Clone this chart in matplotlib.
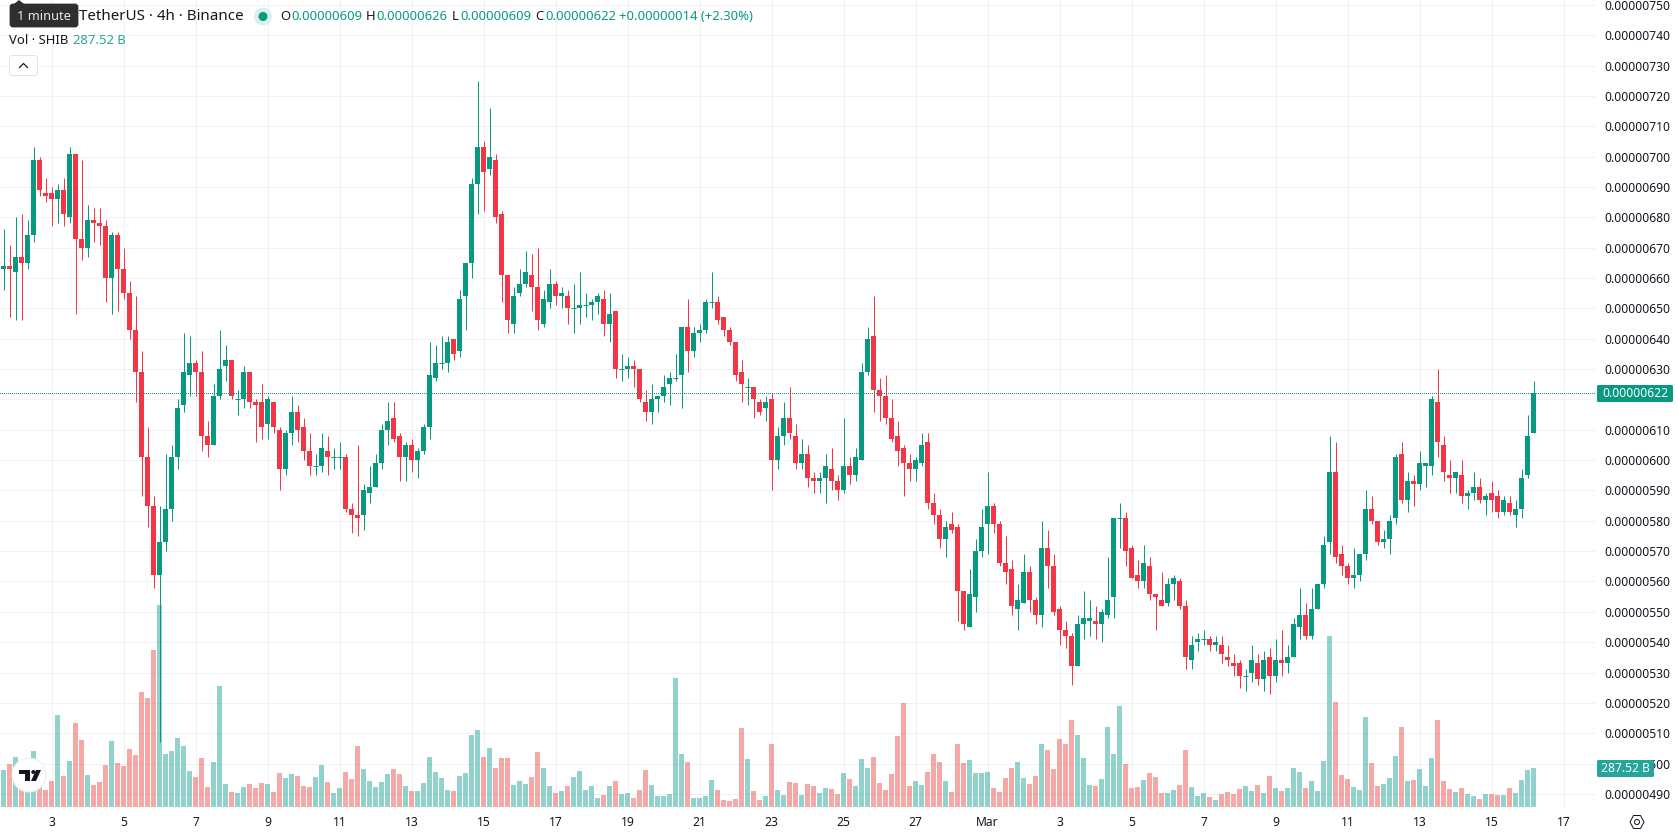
import matplotlib
matplotlib.use("Agg")
import matplotlib.pyplot as plt
from matplotlib.patches import Circle, FancyBboxPatch, Polygon

# 4h candles, prices in units of 0.00000001 USDT
opens = [
    663,664,662,667,665,674,699,688,688,686, 689,680,701,673,670,679,678,677,660,674,
    663,655,643,629,601,585,562,573,584,601, 618,628,632,629,608,605,621,631,633,620,
    620,629,619,619,612,619,610,597,609,616, 611,603,598,598,603,601,601,601,584,582,
    582,589,591,599,610,614,608,601,605,600, 603,611,627,632,632,640,636,654,665,691,
    703,696,699,681,661,645,655,658,661,657, 645,652,658,654,654,650,650,651,651,652,
    653,645,649,630,630,631,630,619,616,620, 621,625,627,628,644,636,642,643,652,652,
    647,643,639,629,624,624,619,617,620,600, 608,614,608,599,602,594,593,594,597,593,
    590,598,595,600,629,641,623,621,614,608, 604,599,597,599,606,586,582,574,579,578,
    557,545,555,570,579,585,579,566,564,551, 553,563,554,549,571,565,551,544,542,532,
    546,547,547,546,549,555,581,581,571,562, 560,565,556,554,553,559,560,552,534,540,
    541,541,539,539,535,533,533,529,530,533, 528,535,529,534,533,535,545,549,542,551,
    559,573,596,569,565,561,562,569,584,580, 573,574,581,602,587,593,592,598,598,619,
    605,595,594,595,588,589,591,587,589,588, 583,586,582,584,595,609,
]
highs = [
    676,671,680,681,679,703,700,693,690,691, 693,703,701,699,684,683,683,679,675,675,
    670,659,654,636,611,588,585,602,605,620, 642,641,633,636,613,625,643,638,633,623,
    631,629,620,625,621,619,611,610,621,618, 614,609,602,609,608,604,606,602,586,605,
    592,598,602,612,619,619,609,606,607,604, 612,639,638,641,641,640,656,665,693,725,
    705,716,701,682,661,657,663,669,668,670, 656,663,659,657,656,658,662,655,653,655,
    656,655,649,635,634,633,630,623,625,621, 628,629,635,644,653,644,645,653,662,654,
    647,644,639,633,627,624,620,621,622,611, 619,624,612,607,605,596,596,602,604,595,
    614,601,604,632,644,654,627,628,620,613, 605,602,601,609,609,589,584,580,583,579,
    557,564,574,584,596,586,580,575,567,559, 569,565,555,580,577,569,552,547,543,549,
    557,554,552,551,568,581,586,583,572,567, 572,568,556,563,561,562,561,554,542,543,
    544,542,542,542,539,536,534,531,539,536, 537,538,541,544,539,548,558,553,558,559,
    575,608,606,572,566,571,569,590,588,580, 577,582,602,606,596,595,603,599,621,630,
    608,600,596,600,590,596,594,589,593,590, 588,588,587,597,615,626,
]
lows = [
    656,647,646,646,663,672,687,685,677,678, 677,678,648,666,667,672,671,652,648,649,
    653,640,619,588,578,558,507,570,580,597, 616,621,621,603,601,605,620,626,620,615,
    617,617,606,607,607,609,590,595,605,606, 600,595,595,596,595,597,597,583,576,575,
    577,586,591,597,605,606,593,593,596,594, 602,607,626,630,629,633,634,643,660,681,
    682,694,678,652,642,642,654,657,649,643, 644,650,651,650,645,642,645,647,646,648,
    641,639,627,626,627,624,619,613,612,616, 619,618,626,617,629,634,639,642,650,645,
    641,638,626,619,618,614,615,613,590,597, 605,607,597,597,591,589,589,586,590,587,
    589,592,593,600,628,616,613,612,606,598, 588,593,593,598,584,579,571,568,576,547,
    544,545,550,568,569,576,565,559,549,544, 553,550,546,545,558,549,539,538,526,532,
    541,542,541,540,548,548,571,565,561,558, 558,554,544,552,552,554,551,531,531,537,
    539,537,537,533,532,529,525,524,527,526, 524,523,527,529,530,535,541,541,541,551,
    558,569,566,562,559,558,560,567,579,572, 571,569,579,586,583,585,590,591,595,601,
    593,589,589,586,584,587,586,582,583,581, 582,582,578,581,594,609,
]
closes = [
    664,663,667,665,674,699,689,687,686,689, 681,701,673,670,679,678,677,660,674,663,
    655,643,629,601,585,562,573,584,601,617, 629,632,629,608,605,621,630,633,621,620,
    629,619,618,611,620,611,597,609,616,610, 603,598,598,604,601,601,601,584,582,581,
    590,591,599,610,613,607,601,605,600,603, 611,628,632,632,639,635,653,665,691,703,
    695,700,680,661,646,654,658,662,657,646, 653,658,654,655,650,650,651,651,652,654,
    645,648,630,630,631,630,620,616,620,621, 624,627,627,644,636,642,643,652,652,646,
    643,639,628,625,624,620,616,619,600,608, 614,609,599,602,594,593,594,598,593,590,
    598,595,601,629,640,623,621,614,607,603, 599,597,600,605,586,582,574,578,577,557,
    546,556,570,578,585,579,566,563,552,554, 563,554,549,571,565,550,544,542,532,546,
    548,548,546,550,554,581,581,570,561,560, 566,556,555,552,559,561,552,535,539,541,
    541,539,540,536,534,532,529,529,534,528, 534,529,534,533,535,546,549,542,551,559,
    572,596,568,565,561,562,569,584,580,573, 574,580,601,587,593,592,599,599,620,606,
    596,594,596,588,589,591,587,588,587,583, 587,583,584,594,608,622,
]
# Volume in billions of SHIB
volumes = [
    273,317,369,147,123,413,172,125,192,678, 229,339,619,494,236,162,184,310,486,324,
    302,428,383,848,803,1157,1489,391,413,509, 450,265,221,361,147,332,892,170,111,103,
    147,170,140,177,170,111,251,214,243,229, 155,147,221,310,184,103,140,258,206,450,
    280,192,147,184,243,280,243,152,115,115, 174,366,256,211,123,115,226,248,528,565,
    366,432,285,359,359,160,189,167,219,403, 285,152,101,115,152,219,263,123,152,64,
    86,152,189,93,101,64,123,270,160,79, 79,93,948,388,329,64,64,79,197,123,
    49,42,57,580,351,115,49,79,462,123, 86,182,174,86,167,152,101,138,130,93,
    248,204,152,351,285,366,174,123,241,521, 764,152,189,160,256,388,329,189,108,462,
    322,344,248,248,256,138,108,211,285,329, 211,167,226,462,420,280,501,464,641,531,
    361,162,155,206,590,391,744,317,140,147, 199,251,221,103,103,125,162,420,147,81,
    103,74,52,96,111,96,133,155,118,162, 103,229,140,118,140,287,258,140,192,118,
    339,1260,774,236,206,147,125,663,324,155, 170,214,376,590,192,199,280,155,361,641,
    192,133,111,140,96,81,59,96,96,88, 88,140,103,199,273,287.52,
]

# The scale omits the one label that would sit under the last-price tag
price_ticks = list(range(490, 760, 10))
hidden_price_labels = [620]
date_tick_candles = [8 + 12 * k for k in range(22)]
date_tick_labels = ["3","5","7","9","11","13","15","17","19","21","23","25","27","Mar",
                    "3","5","7","9","11","13","15","17"]

GREEN = "#089981"
RED = "#F23645"
INK = "#131722"
GRID = "#F0F1F3"
TEAL = "#26A69A"
FONT = "Noto Sans"
W, H = 1678, 835
PANE_W, PANE_H = 1595, 807
PX = 72 / 100  # points per pixel at dpi 100

plt.rcParams["font.family"] = FONT
fig = plt.figure(figsize=(W / 100, H / 100), dpi=100, facecolor="white")
rect = [0, (H - PANE_H) / H, PANE_W / W, PANE_H / H]

x = list(range(len(closes)))
xlim = (-3.5 / 6, (PANE_W - 3.5) / 6)
ylim = (485.68, 751.6)
is_up = [c >= o for o, c in zip(opens, closes)]
colors = [GREEN if u else RED for u in is_up]

# Bottom layer: grid and both axes' tick labels
ax_grid = fig.add_axes(rect, zorder=0)
ax_grid.set_xlim(xlim)
ax_grid.set_ylim(ylim)
ax_grid.yaxis.tick_right()
ax_grid.set_yticks(price_ticks)
ax_grid.set_yticklabels(["" if p in hidden_price_labels else f"{p * 1e-8:.8f}" for p in price_ticks],
                        fontsize=8.7, color=INK)
ax_grid.set_xticks(date_tick_candles)
ax_grid.set_xticklabels(date_tick_labels, fontsize=8.7, color=INK)
for lab in ax_grid.get_xticklabels():
    if lab.get_text() == "Mar":
        lab.set_fontweight("bold")
ax_grid.tick_params(axis="both", length=0)
ax_grid.tick_params(axis="y", pad=6.4)
ax_grid.tick_params(axis="x", pad=6.8)
ax_grid.grid(True, color=GRID, linewidth=1 * PX)
for s in ax_grid.spines.values():
    s.set_visible(False)

# Volume histogram, scaled so the latest bar stands 39 px tall
ax_vol = fig.add_axes(rect, zorder=1)
ax_vol.patch.set_alpha(0)
ax_vol.set_xlim(xlim)
ax_vol.set_ylim(0, PANE_H * volumes[-1] / 39)
ax_vol.axis("off")
ax_vol.bar(x, volumes, width=5 / 6, linewidth=0, alpha=0.5,
           color=[TEAL if u else "#EF5350" for u in is_up])

# Candles: wicks first, then bodies, with one-pixel bars for flat candles
ax_c = fig.add_axes(rect, zorder=2)
ax_c.patch.set_alpha(0)
ax_c.set_xlim(xlim)
ax_c.set_ylim(ylim)
ax_c.axis("off")
ax_c.vlines(x, lows, highs, colors=colors, linewidth=1 * PX)
ax_c.bar(x, [abs(c - o) for o, c in zip(opens, closes)],
         bottom=[min(o, c) for o, c in zip(opens, closes)],
         width=5 / 6, color=colors, linewidth=0)
flat = [i for i in x if opens[i] == closes[i]]
ax_c.hlines([closes[i] for i in flat], [i - 2.5 / 6 for i in flat], [i + 2.5 / 6 for i in flat],
            colors=[colors[i] for i in flat], linewidth=1 * PX)
ax_c.axhline(closes[-1], color=GREEN, linewidth=1 * PX, linestyle=(0, (1, 2)), antialiased=False)

# Overlay in pixel coordinates for the header, labels and widgets
ui = fig.add_axes([0, 0, 1, 1], zorder=3)
ui.patch.set_alpha(0)
ui.set_xlim(0, W)
ui.set_ylim(H, 0)
ui.axis("off")

ui.text(79, 17, "TetherUS · 4h · Binance", fontsize=10.9, color=INK, va="center", ha="left")
ui.add_patch(Polygon([(14, 4), (19, 0), (24, 4)], closed=True, facecolor="#2A2E39", linewidth=0))
ui.add_patch(FancyBboxPatch((11, 5), 66, 21, boxstyle="round,pad=0,rounding_size=2",
                            facecolor="#2E2E2E", edgecolor="#2E2E2E", linewidth=2))
ui.text(43.5, 16, "1 minute", fontsize=9.2, color="#E8E8E8", va="center", ha="center")

ui.add_patch(Circle((263, 16.5), 9, facecolor="#D9F0EC", linewidth=0))
ui.add_patch(Circle((263, 16.5), 4.5, facecolor=GREEN, linewidth=0))

ohlc_items = [(280, "O", 291, opens[-1]), (366, "H", 376, highs[-1]),
              (452, "L", 460, lows[-1]), (535, "C", 545, closes[-1])]
for lx, letter, vx, val in ohlc_items:
    ui.text(lx, 17, letter, fontsize=9.4, color=INK, va="center", ha="left")
    ui.text(vx, 17, f"{val * 1e-8:.8f}", fontsize=9.4, color=GREEN, va="center", ha="left")
ui.text(619, 17, "+0.00000014 (+2.30%)", fontsize=9.4, color=GREEN, va="center", ha="left")

ui.text(9, 41, "Vol · SHIB", fontsize=9.4, color=INK, va="center", ha="left")
ui.text(73, 41, "287.52 B", fontsize=9.4, color=TEAL, va="center", ha="left")

ui.add_patch(FancyBboxPatch((9.5, 55.5), 28, 20, boxstyle="round,pad=0,rounding_size=3",
                            facecolor="white", edgecolor="#E0E3EB", linewidth=1 * PX))
ui.plot([19.5, 23.5, 27.5], [67.5, 63.5, 67.5], color=INK, linewidth=1.2 * PX)

# Value tags on the price scale
ui.add_patch(FancyBboxPatch((1597, 385), 76, 17, boxstyle="round,pad=0,rounding_size=1.5",
                            facecolor=GREEN, linewidth=0))
ui.text(1635, 393.8, f"{closes[-1] * 1e-8:.8f}", fontsize=8.7, color="white", va="center", ha="center")
ui.add_patch(FancyBboxPatch((1597, 760), 57, 17, boxstyle="round,pad=0,rounding_size=1.5",
                            facecolor=TEAL, linewidth=0))
ui.text(1625.5, 768.8, "287.52 B", fontsize=8.7, color="white", va="center", ha="center")

# Brand badge over the volume pane
ui.add_patch(Circle((29, 775), 17, facecolor="white", edgecolor="#EDEDED", linewidth=1 * PX))
ui.add_patch(Polygon([(19, 770), (29.5, 770), (29.5, 781), (24.5, 781), (24.5, 774), (19, 774)],
                     closed=True, facecolor=INK, linewidth=0))
ui.add_patch(Circle((33.3, 772), 2, facecolor=INK, linewidth=0))
ui.add_patch(Polygon([(36, 770), (41, 770), (36, 781), (31, 781)], closed=True, facecolor=INK, linewidth=0))

# Settings hexagon in the bottom-right corner
ui.add_patch(Polygon([(1630, 822), (1633.5, 815.5), (1640.5, 815.5), (1644, 822), (1640.5, 828.5), (1633.5, 828.5)],
                     closed=True, facecolor="none", edgecolor=INK, linewidth=1 * PX))
ui.add_patch(Circle((1637, 822), 2.5, facecolor="none", edgecolor=INK, linewidth=1 * PX))

fig.savefig("out.png", dpi=100, facecolor="white")
